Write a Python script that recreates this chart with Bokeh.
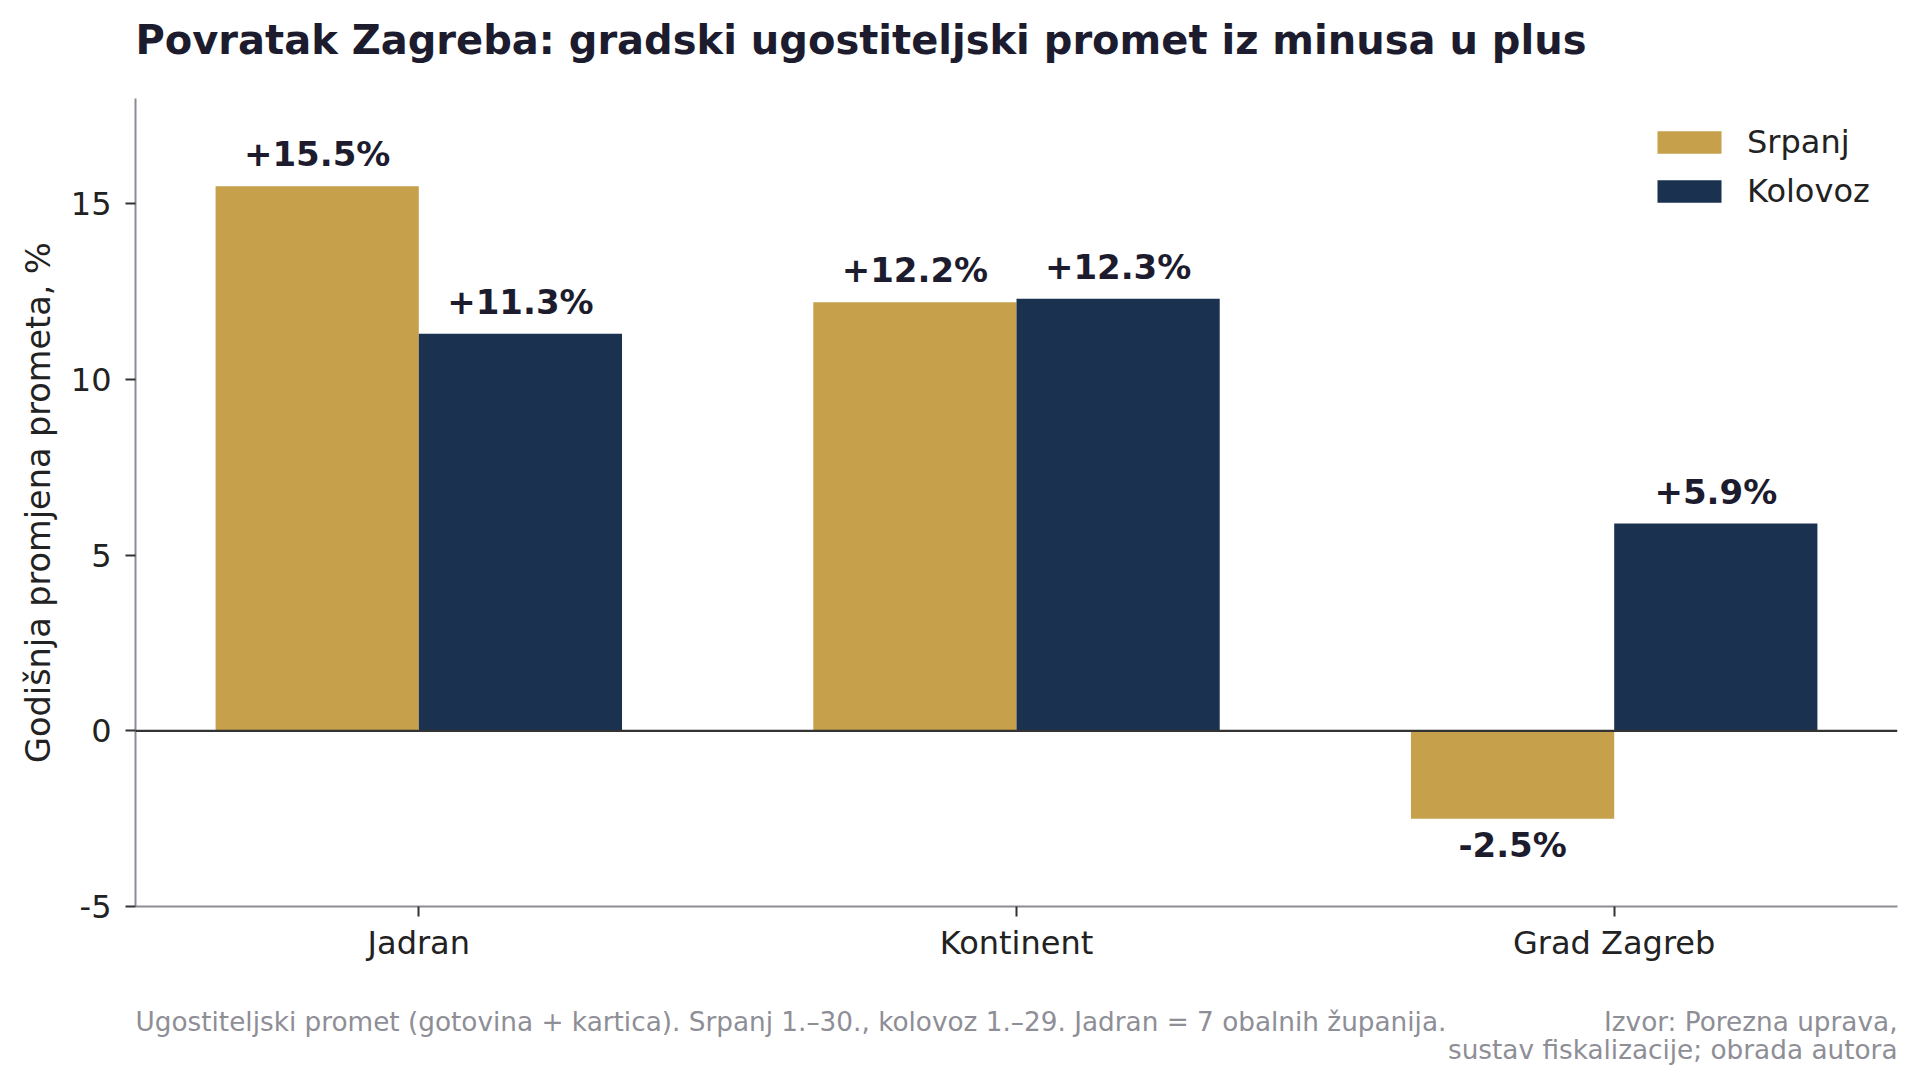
from bokeh.plotting import figure
from bokeh.layouts import column
from bokeh.models import ColumnDataSource, FixedTicker, Span, Legend, LegendItem, Label
from bokeh.transform import dodge
from bokeh.core.properties import value
from bokeh.embed import file_html
from bokeh.resources import INLINE

# ---- data ----
categories = ["Jadran", "Kontinent", "Grad Zagreb"]
srpanj = [15.5, 12.2, -2.5]
kolovoz = [11.3, 12.3, 5.9]
series_names = ["Srpanj", "Kolovoz"]
y_ticks = [-5, 0, 5, 10, 15]
y_tick_labels = ["-5", "0", "5", "10", "15"]

title_text = "Povratak Zagreba: gradski ugostiteljski promet iz minusa u plus"
y_label = "Godišnja promjena prometa, %"
note_left = "Ugostiteljski promet (gotovina + kartica). Srpanj 1.–30., kolovoz 1.–29. Jadran = 7 obalnih županija."
note_right = ["Izvor: Porezna uprava,", "sustav fiskalizacije; obrada autora"]

# ---- style ----
GOLD = "#C6A04B"
NAVY = "#1A3250"
INK = "#1C1C2E"
TICK_INK = "#222222"
SPINE = "#8C8C96"
NOTE = "#8E8E96"
FONT = "DejaVu Sans"
BW = 0.34
W = 1904
H_HEAD, H_MAIN, H_NOTE = 70, 930, 72
ML, MR, MT, MB = 135, 7, 28, 94
frame_w = W - ML - MR
frame_h = H_MAIN - MT - MB


def fmt(v):
    return f"{v:+.1f}%"


def blank(height):
    f = figure(width=W, height=height, output_backend="svg", toolbar_location=None,
               x_axis_location=None, y_axis_location=None, min_border=0,
               x_range=(0, 1), y_range=(0, 1))
    f.outline_line_color = None
    f.xgrid.visible = False
    f.ygrid.visible = False
    f.background_fill_color = "white"
    f.border_fill_color = "white"
    return f


# ---- header (title); its frame is aligned with the chart frame by the column ----
head = blank(H_HEAD)
head.add_layout(Label(x=0, y=31, x_units="screen", y_units="screen", text=title_text,
                      text_font=FONT, text_font_size="40px", text_font_style="bold",
                      text_color=INK, text_align="left", text_baseline="alphabetic"))

# ---- main chart ----
idx = list(range(len(categories)))
src = ColumnDataSource(dict(idx=idx, srpanj=srpanj, kolovoz=kolovoz))

span = (len(categories) - 1) + 2 * BW
pad = 0.05 * span

p = figure(width=W, height=H_MAIN,
           x_range=(-BW - pad, len(categories) - 1 + BW + pad), y_range=(-5, 18),
           output_backend="svg", toolbar_location=None,
           min_border_left=ML, min_border_right=MR, min_border_top=MT, min_border_bottom=MB)
p.background_fill_color = "white"
p.border_fill_color = "white"
p.outline_line_color = None
p.xgrid.visible = False
p.ygrid.visible = False

r1 = p.vbar(x=dodge("idx", -BW / 2, range=p.x_range), top="srpanj", width=BW,
            source=src, fill_color=GOLD, line_color=None)
r2 = p.vbar(x=dodge("idx", BW / 2, range=p.x_range), top="kolovoz", width=BW,
            source=src, fill_color=NAVY, line_color=None)

p.add_layout(Span(location=0, dimension="width", line_color="#333333", line_width=2.2))

# value labels
pos = dict(x=[], v=[], t=[])
neg = dict(x=[], v=[], t=[])
for off, vals in ((-BW / 2, srpanj), (BW / 2, kolovoz)):
    for i, v in zip(idx, vals):
        d = pos if v >= 0 else neg
        d["x"].append(i + off)
        d["v"].append(v)
        d["t"].append(fmt(v))
common = dict(text_align="center", text_font=value(FONT), text_font_style="bold",
              text_font_size="34px", text_color=INK)
p.text(x="x", y="v", text="t", source=ColumnDataSource(pos), text_baseline="bottom",
       y_offset=-12, **common)
p.text(x="x", y="v", text="t", source=ColumnDataSource(neg), text_baseline="top",
       y_offset=6, **common)

# axes
p.yaxis.ticker = FixedTicker(ticks=y_ticks)
p.yaxis.major_label_overrides = {t: s for t, s in zip(y_ticks, y_tick_labels)}
p.xaxis.ticker = FixedTicker(ticks=idx)
p.xaxis.major_label_overrides = {i: c for i, c in zip(idx, categories)}
for ax in (p.xaxis[0], p.yaxis[0]):
    ax.axis_line_color = SPINE
    ax.axis_line_width = 2
    ax.major_tick_line_color = "#333333"
    ax.major_tick_line_width = 2
    ax.major_tick_out = 10
    ax.major_tick_in = 0
    ax.minor_tick_line_color = None
    ax.major_label_text_font = FONT
    ax.major_label_text_font_size = "32px"
    ax.major_label_text_color = TICK_INK
p.yaxis.major_label_standoff = 14
p.xaxis.major_label_standoff = 7
p.yaxis.axis_label = y_label
p.yaxis.axis_label_text_font = FONT
p.yaxis.axis_label_text_font_size = "33.5px"
p.yaxis.axis_label_text_font_style = "normal"
p.yaxis.axis_label_text_color = TICK_INK
p.yaxis.axis_label_standoff = 10

# legend (location = bottom-left corner, screen px from the frame's bottom-left)
legend = Legend(items=[LegendItem(label=series_names[0], renderers=[r1]),
                       LegendItem(label=series_names[1], renderers=[r2])],
                location=(1504, frame_h - 122), margin=0, padding=10, spacing=11,
                glyph_width=80, glyph_height=28, label_standoff=18,
                label_text_font=FONT, label_text_font_size="32px", label_text_color=TICK_INK,
                border_line_alpha=0, background_fill_alpha=0)
p.add_layout(legend)

# ---- footnotes; frame aligned with the chart frame ----
notes = blank(H_NOTE)
note_style = dict(x_units="screen", y_units="screen", text_font=FONT,
                  text_font_size="26.3px", text_color=NOTE, text_baseline="alphabetic")
notes.add_layout(Label(x=0, y=51, text=note_left, text_align="left", **note_style))
notes.add_layout(Label(x=frame_w, y=51, text=note_right[0], text_align="right", **note_style))
notes.add_layout(Label(x=frame_w, y=23, text=note_right[1], text_align="right", **note_style))

page = column(head, p, notes, spacing=0)
open("out.html", "w").write(file_html(page, INLINE))
